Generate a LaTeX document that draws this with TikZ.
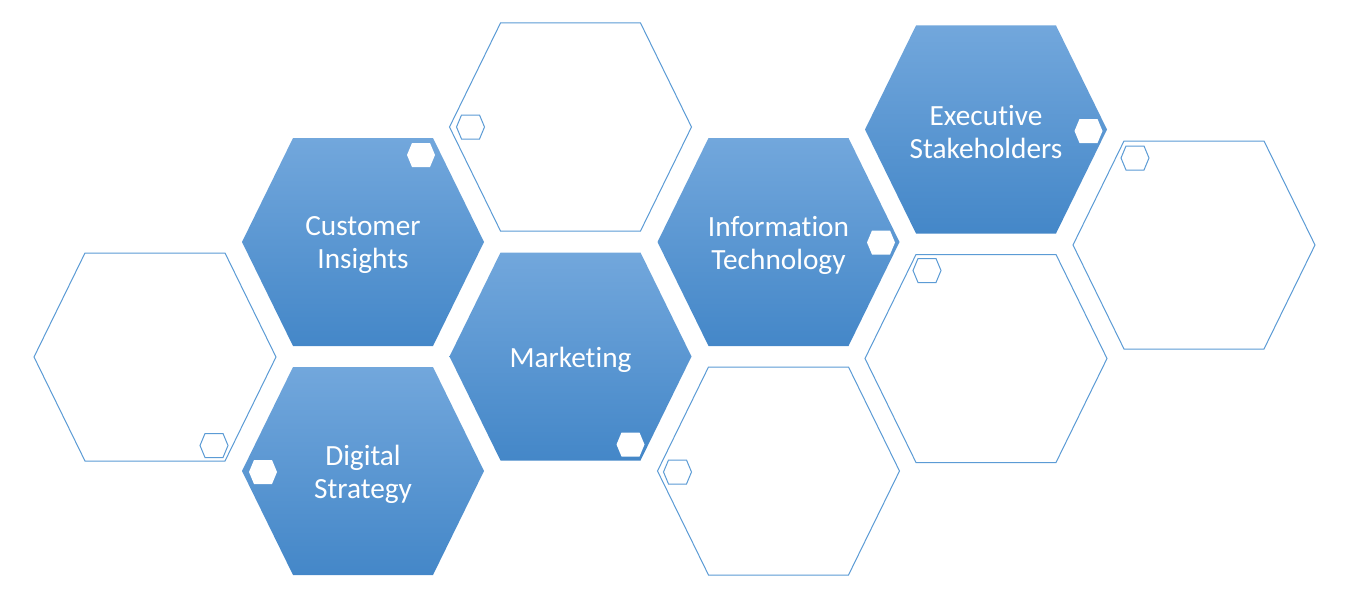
\documentclass[tikz,border=0pt]{standalone}
\usepackage{fontspec}
\setmainfont{Carlito}[Ligatures=NoCommon]

\definecolor{hexTop}{HTML}{72A7DC}
\definecolor{hexBot}{HTML}{4487C8}
\definecolor{hexEdge}{HTML}{5B9BD5}

% big and small flat-topped cells, drawn round a named point
\newcommand{\bighex}[2]{%
  \path[#1] (#2) ++(-121,0) -- ++(51,-104) -- ++(140,0) -- ++(51,104)
    -- ++(-51,104) -- ++(-140,0) -- cycle;}
\newcommand{\smallhex}[2]{%
  \path[#1] (#2) ++(-14,0) -- ++(5,-12) -- ++(18,0) -- ++(5,12)
    -- ++(-5,12) -- ++(-18,0) -- cycle;}

\begin{document}
\begin{tikzpicture}[x=1pt, y=-1pt,
    solidhex/.style={top color=hexTop, bottom color=hexBot},
    emptyhex/.style={draw=hexEdge, line width=1pt, fill=white},
    solidpip/.style={fill=white},
    emptypip/.style={draw=hexEdge, line width=1pt, fill=white},
    hextext/.style={text=white, align=center, inner sep=0pt, yshift=-3pt,
      font=\fontsize{29.3}{33}\selectfont}]

    \useasboundingbox (0,0) rectangle (1358,610);

    % Define cell centres
    \coordinate (leftgap)   at (155,357);
    \coordinate (insights)  at (363,242);
    \coordinate (digital)   at (363,471);
    \coordinate (topgap)    at (570.5,127);
    \coordinate (marketing) at (570.5,356.5);
    \coordinate (infotech)  at (778.5,242);
    \coordinate (lowgap)    at (778.5,471);
    \coordinate (exec)      at (986,129.5);
    \coordinate (midgap)    at (986,358.5);
    \coordinate (rightgap)  at (1194,245);

    % Big cells
    \bighex{emptyhex}{leftgap}
    \bighex{solidhex}{insights}
    \bighex{solidhex}{digital}
    \bighex{emptyhex}{topgap}
    \bighex{solidhex}{marketing}
    \bighex{solidhex}{infotech}
    \bighex{emptyhex}{lowgap}
    \bighex{solidhex}{exec}
    \bighex{emptyhex}{midgap}
    \bighex{emptyhex}{rightgap}

    % Small cells
    \smallhex{emptypip}{[shift={(59,88.5)}]leftgap}
    \smallhex{solidpip}{[shift={(58,-87)}]insights}
    \smallhex{solidpip}{[shift={(-100,1)}]digital}
    \smallhex{emptypip}{[shift={(-100,0)}]topgap}
    \smallhex{solidpip}{[shift={(60,88)}]marketing}
    \smallhex{solidpip}{[shift={(102.5,0.5)}]infotech}
    \smallhex{emptypip}{[shift={(-101,1)}]lowgap}
    \smallhex{solidpip}{[shift={(102.5,1.5)}]exec}
    \smallhex{emptypip}{[shift={(-59,-88)}]midgap}
    \smallhex{emptypip}{[shift={(-59,-87)}]rightgap}

    % Labels
    \node[hextext] (insights-t)  at (insights)  {Customer\\Insights};
    \node[hextext] (digital-t)   at (digital)   {Digital\\Strategy};
    \node[hextext] (marketing-t) at (marketing) {Marketing};
    \node[hextext] (infotech-t)  at (infotech)  {Information\\Technology};
    \node[hextext] (exec-t)      at (exec)      {Executive\\Stakeholders};

\end{tikzpicture}
\end{document}
